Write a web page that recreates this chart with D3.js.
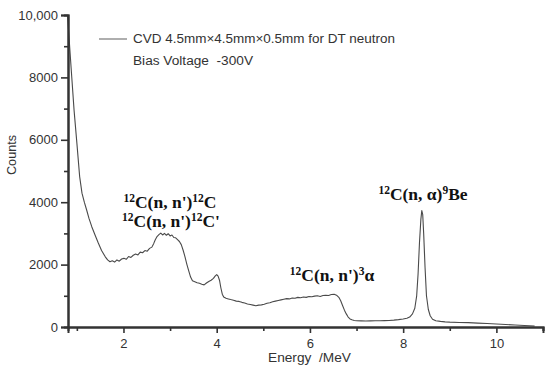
<!DOCTYPE html>
<html>
<head>
<meta charset="utf-8">
<script src="https://cdn.jsdelivr.net/npm/d3@7"></script>
<style>
  body { margin: 0; background: #fff; }
  text { font-family: "Liberation Sans", Arial, sans-serif; fill: #333; }
  text.anno { font-family: "Liberation Serif", "Times New Roman", serif; font-weight: bold; fill: #111; }
</style>
</head>
<body>
<div id="chart"></div>
<script>
// spectrum (energy in MeV, counts)
let energy = [
  0.80, 0.84, 0.89, 0.94, 1.00, 1.06, 1.11, 1.16, 1.21, 1.26,
  1.32, 1.39, 1.46, 1.53, 1.61, 1.66, 1.71, 1.76, 1.81, 1.86,
  1.91, 1.96, 2.01, 2.06, 2.11, 2.16, 2.21, 2.26, 2.31, 2.36,
  2.41, 2.46, 2.51, 2.56, 2.61, 2.65, 2.68, 2.72, 2.76, 2.80,
  2.84, 2.88, 2.92, 2.96, 3.00, 3.04, 3.08, 3.12, 3.16, 3.20,
  3.24, 3.28, 3.32, 3.36, 3.40, 3.44, 3.48, 3.53, 3.58, 3.63,
  3.68, 3.73, 3.78, 3.83, 3.88, 3.93, 3.97, 4.00, 4.03, 4.06,
  4.09, 4.12, 4.15, 4.20, 4.25, 4.30, 4.36, 4.42, 4.48, 4.54,
  4.60, 4.66, 4.72, 4.78, 4.84, 4.90, 4.96, 5.02, 5.08, 5.14,
  5.20, 5.26, 5.32, 5.38, 5.44, 5.50, 5.56, 5.62, 5.68, 5.74,
  5.80, 5.86, 5.92, 5.98, 6.04, 6.10, 6.16, 6.22, 6.28, 6.34,
  6.40, 6.46, 6.52, 6.57, 6.62, 6.66, 6.70, 6.74, 6.78, 6.82,
  6.86, 6.90, 6.95, 7.00, 7.10, 7.20, 7.30, 7.40, 7.50, 7.60,
  7.70, 7.80, 7.90, 8.00, 8.08, 8.14, 8.20, 8.25, 8.29, 8.32,
  8.35, 8.38, 8.40, 8.42, 8.44, 8.47, 8.50, 8.54, 8.58, 8.63,
  8.70, 8.80, 8.90, 9.00, 9.20, 9.40, 9.60, 9.80, 10.00, 10.20,
  10.40, 10.60, 10.82
];
let counts = [
  10000, 9100, 8020, 6950, 5900, 4820, 4290, 4000, 3750, 3480,
  3215, 2950, 2690, 2450, 2250, 2150, 2090, 2120, 2080, 2150,
  2110, 2180, 2200, 2170, 2260, 2230, 2300, 2340, 2310, 2400,
  2380, 2450, 2430, 2520, 2560, 2680, 2790, 2900, 2960, 3010,
  2950, 3000, 2940, 2990, 2920, 2950, 2870, 2860, 2800, 2740,
  2640, 2460, 2250, 2010, 1800, 1600, 1480, 1450, 1420, 1400,
  1370, 1350, 1410, 1460, 1500, 1560, 1640, 1680, 1630, 1500,
  1250, 1050, 960, 920, 900, 880, 860, 830, 820, 790,
  770, 740, 720, 700, 680, 700, 710, 730, 760, 780,
  810, 830, 850, 870, 890, 910, 900, 930, 920, 950,
  940, 960, 950, 980, 970, 990, 1000, 980, 1010, 1020,
  1010, 1040, 1050, 1020, 950, 840, 690, 540, 420, 320,
  260, 230, 210, 200, 195, 190, 195, 200, 200, 205,
  210, 220, 235, 255, 280, 320, 420, 600, 1000, 1700,
  2700, 3450, 3730, 3600, 3000, 1900, 1000, 560, 360, 250,
  200, 180, 165, 155, 145, 140, 125, 110, 95, 80,
  65, 50, 30
];

let yTicks = [0, 2000, 4000, 6000, 8000, 10000];
let yTickLabels = ["0", "2000", "4000", "6000", "8000", "10,000"];
let yMinor = [1000, 3000, 5000, 7000, 9000];
let xTicks = [2, 4, 6, 8, 10];
let xMinor = [1, 3, 5, 7, 9, 11];

let legendLines = ["CVD 4.5mm\u00d74.5mm\u00d70.5mm for DT neutron", "Bias Voltage  -300V"];

// annotation pieces: [text, isSuperscript]
let annoFission1 = [["12", true], ["C(n, n')", false], ["12", true], ["C", false]];
let annoFission2 = [["12", true], ["C(n, n')", false], ["12", true], ["C'", false]];
let annoAlpha3 = [["12", true], ["C(n, n')", false], ["3", true], ["\u03b1", false]];
let annoBe = [["12", true], ["C(n, \u03b1)", false], ["9", true], ["Be", false]];

let svgWidth = 550;
let svgHeight = 370;

let svg = d3.select("#chart")
  .append("svg")
  .attr("width", svgWidth)
  .attr("height", svgHeight);

let x = d3.scaleLinear().domain([0.81, 11.0]).range([68, 543]);
let y = d3.scaleLinear().domain([0, 10000]).range([327, 15]);

let data = energy.map((e, i) => ({ e: e, c: counts[i] }));

// spectrum line
svg.append("path")
  .datum(data)
  .attr("fill", "none")
  .attr("stroke", "#4a4a4a")
  .attr("stroke-width", 1.1)
  .attr("stroke-linejoin", "round")
  .attr("d", d3.line().x(d => x(d.e)).y(d => y(d.c)));

// axes
let leftAxis = d3.axisLeft(y)
  .tickValues(yTicks)
  .tickSize(7)
  .tickPadding(3)
  .tickFormat((d, i) => yTickLabels[i]);
let leftMinor = d3.axisLeft(y).tickValues(yMinor).tickSize(4).tickFormat("");
let bottomAxis = d3.axisBottom(x).tickValues(xTicks).tickSize(6).tickPadding(6).tickFormat(d3.format("d"));
let bottomMinor = d3.axisBottom(x).tickValues(xMinor).tickSize(4).tickFormat("");

function styleAxis(g) {
  g.select(".domain").attr("stroke", "#333").attr("stroke-width", 2);
  g.selectAll(".tick line").attr("stroke", "#333").attr("stroke-width", 1.6);
  g.selectAll(".tick text").style("font-size", "13px").attr("fill", "#333");
}

svg.append("g").attr("transform", "translate(68,0)").call(leftMinor).call(styleAxis);
svg.append("g").attr("transform", "translate(68,0)").call(leftAxis).call(styleAxis);
svg.append("g").attr("transform", "translate(0,327)").call(bottomMinor).call(styleAxis);
svg.append("g").attr("transform", "translate(0,327)").call(bottomAxis).call(styleAxis);

// axis titles
svg.append("text")
  .attr("transform", "translate(16,155) rotate(-90)")
  .attr("text-anchor", "middle")
  .style("font-size", "12px")
  .attr("textLength", 40)
  .attr("lengthAdjust", "spacingAndGlyphs")
  .text("Counts");

svg.append("text")
  .attr("x", 268)
  .attr("y", 362)
  .style("font-size", "13px")
  .style("white-space", "pre")
  .attr("textLength", 83)
  .attr("lengthAdjust", "spacingAndGlyphs")
  .text("Energy  /MeV");

// legend
let legendWidths = [262, 120];
svg.append("line")
  .attr("x1", 99).attr("x2", 127)
  .attr("y1", 39).attr("y2", 39)
  .attr("stroke", "#777").attr("stroke-width", 1.2);
svg.selectAll(".legend")
  .data(legendLines)
  .enter()
  .append("text")
  .attr("class", "legend")
  .attr("x", 133)
  .attr("y", (d, i) => 43 + i * 22)
  .style("font-size", "12px")
  .style("white-space", "pre")
  .attr("textLength", (d, i) => legendWidths[i])
  .attr("lengthAdjust", "spacingAndGlyphs")
  .text(d => d);

// annotations
function annotate(parts, px, py) {
  let t = svg.append("text")
    .attr("class", "anno")
    .attr("x", px)
    .attr("y", py)
    .attr("text-anchor", "middle")
    .style("font-size", "17.5px");
  let up = false;
  parts.forEach(p => {
    let s = t.append("tspan").text(p[0]);
    if (p[1]) {
      s.style("font-size", "11.5px").attr("dy", up ? 0 : -6);
      up = true;
    } else {
      s.attr("dy", up ? 6 : 0);
      up = false;
    }
  });
}

annotate(annoFission1, 170, 208);
annotate(annoFission2, 171, 227);
annotate(annoAlpha3, 332, 281);
annotate(annoBe, 423, 200);
</script>
</body>
</html>
